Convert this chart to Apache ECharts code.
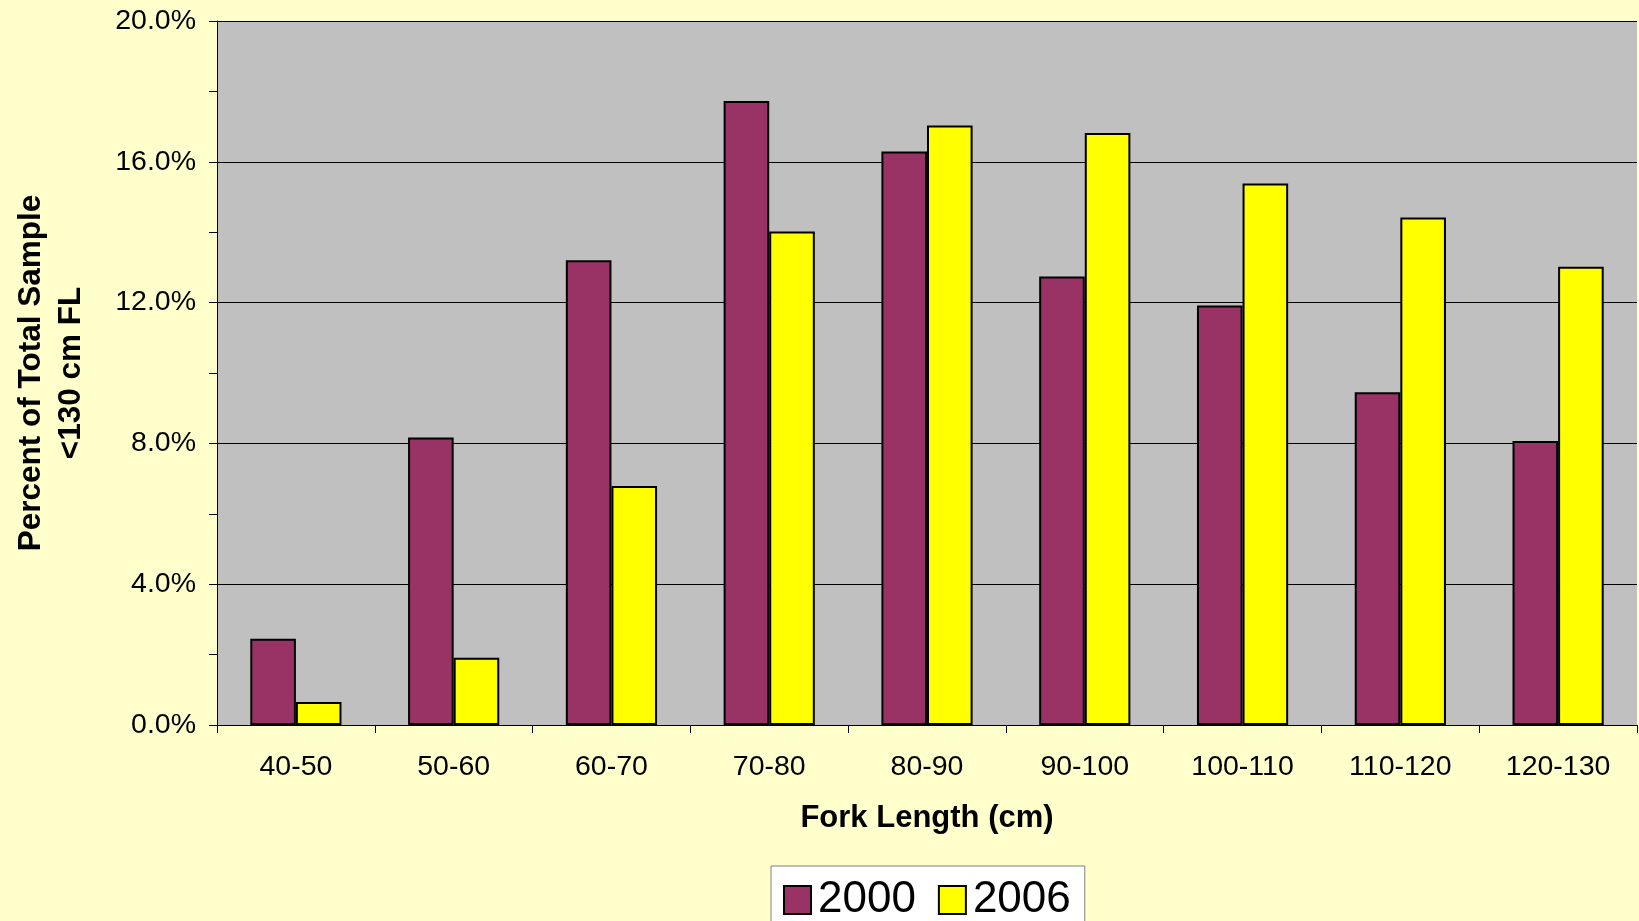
<!DOCTYPE html>
<html>
<head>
<meta charset="utf-8">
<script src="https://cdn.jsdelivr.net/npm/echarts@6/dist/echarts.min.js"></script>
<style>
html,body{margin:0;padding:0;background:#FFFFCC;}
#chart{width:1639px;height:921px;}
</style>
</head>
<body>
<div id="chart"></div>
<script>
var categories = ['40-50','50-60','60-70','70-80','80-90','90-100','100-110','110-120','120-130'];
var series2000 = [2.45, 8.17, 13.20, 17.73, 16.29, 12.74, 11.92, 9.45, 8.07];
var series2006 = [0.65, 1.91, 6.79, 14.02, 17.03, 16.82, 15.38, 14.42, 13.02];
var yTickLabels = ['0.0%','4.0%','8.0%','12.0%','16.0%','20.0%'];
var seriesNames = ['2000','2006'];

var FONT = '"Liberation Sans", Arial, sans-serif';
var chart = echarts.init(document.getElementById('chart'));
chart.setOption({
  backgroundColor: '#FFFFCC',
  animation: false,
  textStyle: {fontFamily: FONT, color: '#000'},
  grid: {left: 217, right: 2, top: 21, height: 704, show: true, backgroundColor: '#C0C0C0', borderWidth: 0},
  legend: {
    data: seriesNames,
    left: 771, top: 866,
    orient: 'horizontal',
    icon: 'rect',
    itemWidth: 27, itemHeight: 28, itemGap: 22,
    backgroundColor: '#FFFFFF', borderColor: '#808080', borderWidth: 1,
    padding: [12, 14, 12, 12],
    textStyle: {fontSize: 44, fontFamily: FONT, color: '#000', padding: [0,0,0,2]}
  },
  xAxis: {
    type: 'category',
    data: categories,
    name: 'Fork Length (cm)',
    nameLocation: 'middle',
    nameGap: 78,
    nameTextStyle: {fontSize: 31, fontWeight: 'bold', fontFamily: FONT, color: '#000'},
    axisLine: {lineStyle: {color: '#000', width: 1}},
    axisTick: {show: true, length: 8, lineStyle: {color: '#000'}},
    axisLabel: {fontSize: 28.5, margin: 28, color: '#000', fontFamily: FONT},
    splitLine: {show: false}
  },
  yAxis: {
    type: 'value',
    min: 0, max: 20, interval: 4,
    name: 'Percent of Total Sample\n<130 cm FL',
    nameLocation: 'middle',
    nameGap: 126,
    nameTextStyle: {fontSize: 31.5, fontWeight: 'bold', lineHeight: 40, fontFamily: FONT, color: '#000', align: 'center'},
    axisLine: {show: true, lineStyle: {color: '#000', width: 1}},
    axisTick: {show: true, length: 8, lineStyle: {color: '#000'}},
    minorTick: {show: true, splitNumber: 2, length: 8, lineStyle: {color: '#000'}},
    axisLabel: {
      fontSize: 28.5, margin: 21, color: '#000', fontFamily: FONT,
      formatter: function (v) { return yTickLabels[Math.round(v / 4)]; }
    },
    splitLine: {show: true, lineStyle: {color: '#000', width: 1}}
  },
  series: [
    {
      name: seriesNames[0], type: 'bar', data: series2000,
      barWidth: '28.9%', barGap: '0%',
      itemStyle: {color: '#993366', borderColor: '#000', borderWidth: 2}
    },
    {
      name: seriesNames[1], type: 'bar', data: series2006,
      barWidth: '28.9%', barGap: '0%',
      itemStyle: {color: '#FFFF00', borderColor: '#000', borderWidth: 2}
    }
  ]
});
</script>
</body>
</html>
